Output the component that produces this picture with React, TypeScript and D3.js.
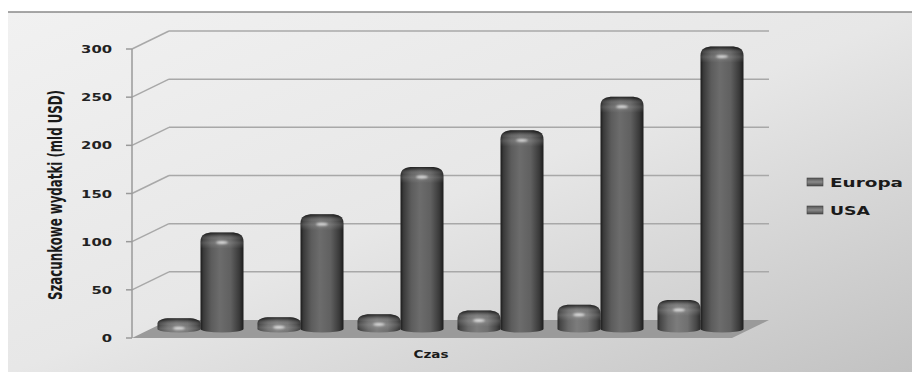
import React from "react";
import * as d3 from "d3";

const periods = ["P1", "P2", "P3", "P4", "P5", "P6"];
const seriesNames = ["Europa", "USA"];
const europa = [6, 7, 10, 14, 20, 25];
const usa = [95, 114, 163, 201, 236, 288];
const yTicks = [0, 50, 100, 150, 200, 250, 300];
const yTitle = "Szacunkowe wydatki (mld USD)";
const xTitle = "Czas";

const W = 912;
const H = 372;

export default function App() {
  const y = d3.scaleLinear().domain([0, 300]).range([338, 49]);
  const x = d3.scaleBand<string>().domain(periods).range([132, 732]);
  const xs = d3.scaleBand<string>().domain(seriesNames).range([7, 93]);
  const dx = 37;
  const dy = -18;
  const midDx = dx / 2;
  const midDy = dy / 2;
  const x0 = 132;
  const x1 = 732;

  const values: Record<string, number[]> = { Europa: europa, USA: usa };

  const bars: { key: string; s: string; bx0: number; bx1: number; top: number; base: number }[] = [];
  periods.forEach((p, i) => {
    seriesNames.forEach((s) => {
      const bx0 = (x(p) as number) + (xs(s) as number) + midDx;
      const bx1 = bx0 + xs.bandwidth();
      const top = y(values[s][i]) + midDy;
      const base = y(0) + midDy;
      bars.push({ key: `${s}-${i}`, s, bx0, bx1, top, base });
    });
  });

  const silhouette = (b: { bx0: number; bx1: number; top: number; base: number }) => {
    const w = b.bx1 - b.bx0;
    const t = b.top - 5;
    const sh = Math.min(9, (b.base - t) / 2);
    return `M${b.bx0},${b.base} L${b.bx0},${t + sh} C${b.bx0},${t + 2} ${b.bx0 + 5},${t} ${b.bx0 + 13},${t}
      L${b.bx1 - 13},${t} C${b.bx1 - 5},${t} ${b.bx1},${t + 2} ${b.bx1},${t + sh}
      L${b.bx1},${b.base} A${w / 2},3.5 0 0 1 ${b.bx0},${b.base} Z`;
  };

  return (
    <svg
      width={W}
      height={H}
      style={{ position: "absolute", left: 0, top: 0, background: "#ffffff" }}
    >
      <defs>
        <linearGradient id="bg" x1="0" y1="0" x2="1" y2="1">
          <stop offset="0" stopColor="#f1f1f1" />
          <stop offset="0.5" stopColor="#e7e7e7" />
          <stop offset="1" stopColor="#c2c2c2" />
        </linearGradient>
        <linearGradient id="bodyUSA" x1="0" y1="0" x2="1" y2="0">
          <stop offset="0" stopColor="#1c1c1c" />
          <stop offset="0.07" stopColor="#3a3a3a" />
          <stop offset="0.25" stopColor="#5c5c5c" />
          <stop offset="0.45" stopColor="#6c6c6c" />
          <stop offset="0.7" stopColor="#606060" />
          <stop offset="0.9" stopColor="#3a3a3a" />
          <stop offset="1" stopColor="#1c1c1c" />
        </linearGradient>
        <linearGradient id="bodyEuropa" x1="0" y1="0" x2="1" y2="0">
          <stop offset="0" stopColor="#2a2a2a" />
          <stop offset="0.07" stopColor="#474747" />
          <stop offset="0.25" stopColor="#6a6a6a" />
          <stop offset="0.45" stopColor="#7c7c7c" />
          <stop offset="0.7" stopColor="#707070" />
          <stop offset="0.9" stopColor="#474747" />
          <stop offset="1" stopColor="#2a2a2a" />
        </linearGradient>
        <linearGradient id="leg" x1="0" y1="0" x2="0" y2="1">
          <stop offset="0" stopColor="#555" />
          <stop offset="0.5" stopColor="#8a8a8a" />
          <stop offset="1" stopColor="#4a4a4a" />
        </linearGradient>
        {bars.map((b) => (
          <linearGradient
            key={`cap-${b.key}`}
            id={`cap-${b.key}`}
            gradientUnits="userSpaceOnUse"
            x1="0"
            y1={b.top - 5}
            x2="0"
            y2={b.top + 11}
          >
            <stop offset="0" stopColor="#000" stopOpacity="0.65" />
            <stop offset="0.15" stopColor="#000" stopOpacity="0.3" />
            <stop offset="0.45" stopColor="#fff" stopOpacity="0.06" />
            <stop offset="0.65" stopColor="#fff" stopOpacity="0.14" />
            <stop offset="1" stopColor="#fff" stopOpacity="0" />
          </linearGradient>
        ))}
        <filter id="blur" x="-50%" y="-200%" width="200%" height="500%">
          <feGaussianBlur stdDeviation="0.8" />
        </filter>
      </defs>

      <rect x={8} y={12} width={W - 8} height={H - 12} fill="url(#bg)" />
      <line x1={8} x2={W} y1={12} y2={12} stroke="#8a8a8a" strokeWidth={1.5} />

      {/* gridlines: side wall + back wall */}
      {yTicks
        .filter((t) => t > 0)
        .map((t) => (
          <g key={`g-${t}`}>
            <line x1={x0} y1={y(t)} x2={x0 + dx} y2={y(t) + dy} stroke="#a8a8a8" strokeWidth={1.5} />
            <line x1={x0 + dx} y1={y(t) + dy} x2={x1 + dx} y2={y(t) + dy} stroke="#a8a8a8" strokeWidth={1.5} />
          </g>
        ))}

      {/* front vertical axis */}
      <line x1={x0} x2={x0} y1={y(300)} y2={y(0)} stroke="#9a9a9a" strokeWidth={1.5} />
      {yTicks.map((t) => (
        <line key={`tk-${t}`} x1={x0 - 6} x2={x0} y1={y(t)} y2={y(t)} stroke="#9a9a9a" strokeWidth={1.5} />
      ))}

      {/* floor */}
      <polygon
        points={`${x0},${y(0)} ${x1},${y(0)} ${x1 + dx},${y(0) + dy} ${x0 + dx},${y(0) + dy}`}
        fill="#9a9a9a"
      />

      {/* tick labels */}
      {yTicks.map((t) => (
        <text
          key={`tl-${t}`}
          x={112}
          y={y(t) + 4}
          textAnchor="end"
          fontFamily="DejaVu Sans"
          fontWeight="bold"
          fontSize={10}
          fill="#222"
          textLength={String(t).length * 10.3}
          lengthAdjust="spacingAndGlyphs"
        >
          {t}
        </text>
      ))}

      {/* bars */}
      {bars.map((b) => {
        const cx = (b.bx0 + b.bx1) / 2;
        const d = silhouette(b);
        return (
          <g key={b.key}>
            <path d={d} fill={`url(#body${b.s})`} />
            <path d={d} fill={`url(#cap-${b.key})`} />
            <ellipse cx={cx} cy={b.top + 5} rx={6} ry={1.4} fill="#ffffff" opacity={0.75} filter="url(#blur)" />
          </g>
        );
      })}

      {/* axis titles */}
      <text
        transform={`translate(62,195) scale(1.3,1) rotate(-90)`}
        textAnchor="middle"
        fontFamily="Liberation Sans Narrow, DejaVu Sans Condensed, sans-serif"
        fontWeight="bold"
        fontSize={15}
        fill="#1a1a1a"
        textLength={210}
        lengthAdjust="spacingAndGlyphs"
      >
        {yTitle}
      </text>
      <text
        x={431}
        y={358}
        textAnchor="middle"
        fontFamily="DejaVu Sans"
        fontWeight="bold"
        fontSize={10.5}
        fill="#1a1a1a"
        textLength={35}
        lengthAdjust="spacingAndGlyphs"
      >
        {xTitle}
      </text>

      {/* legend */}
      {seriesNames.map((s, i) => (
        <g key={`leg-${s}`} transform={`translate(807,${178 + i * 28})`}>
          <rect x={0} y={0} width={16} height={8} fill="url(#leg)" stroke="#444" strokeWidth={0.6} />
          <text
            x={23}
            y={9}
            fontFamily="DejaVu Sans"
            fontWeight="bold"
            fontSize={13}
            fill="#1a1a1a"
            textLength={s === "Europa" ? 73 : 40}
            lengthAdjust="spacingAndGlyphs"
          >
            {s}
          </text>
        </g>
      ))}
    </svg>
  );
}
